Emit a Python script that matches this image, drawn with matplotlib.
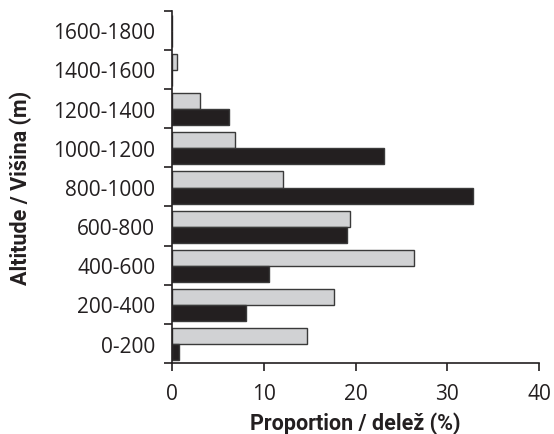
import matplotlib
matplotlib.use("Agg")
import matplotlib.pyplot as plt
import numpy as np

categories = ["0-200", "200-400", "400-600", "600-800", "800-1000",
              "1000-1200", "1200-1400", "1400-1600", "1600-1800"]
grey_vals = [14.7, 17.6, 26.4, 19.35, 12.05, 6.9, 3.0, 0.5, 0.0]
black_vals = [0.8, 8.1, 10.55, 19.1, 32.8, 23.05, 6.2, 0.0, 0.0]

plt.rcParams['font.family'] = ['Open Sans', 'DejaVu Sans']

fig = plt.figure(figsize=(5.54, 4.35), dpi=100)
ax = fig.add_axes([0.3105, 0.163, 0.6625, 0.81])

y = np.arange(len(categories))
h = 0.41
ax.barh(y + 0.19, grey_vals, height=h, color='#d1d2d4', edgecolor='#3a3a3a', linewidth=1.0)
ax.barh(y - 0.22, black_vals, height=h, color='#231f20', edgecolor='#3a3a3a', linewidth=1.0)

ax.set_xlim(0, 40)
ax.set_ylim(-0.5, len(categories) - 0.5)
ax.set_xticks([0, 10, 20, 30, 40])
ax.set_yticks(y)
ax.set_yticklabels(categories)
# ticks sit on the category boundaries, labels at the centres
ax.set_yticks(np.arange(-0.5, len(categories)), minor=True)
ax.tick_params(axis='y', which='major', length=0, pad=12, labelsize=15, labelcolor='#231f20')
ax.tick_params(axis='y', which='minor', length=6, width=1.2, color='#231f20')
ax.tick_params(axis='x', length=6, width=1.2, pad=8, labelsize=15, colors='#231f20')

for s in ['top', 'right']:
    ax.spines[s].set_visible(False)
for s in ['left', 'bottom']:
    ax.spines[s].set_linewidth(1.2)
    ax.spines[s].set_color('#231f20')

lab_font = ['Roboto', 'DejaVu Sans']
ax.set_xlabel("Proportion / delež (%)", fontsize=15.5, fontweight='bold',
              family=lab_font, color='#231f20', labelpad=6)
ax.set_ylabel("Altitude / Višina (m)", fontsize=15.5, fontweight='bold',
              family=lab_font, color='#231f20')
ax.yaxis.set_label_coords(-0.382, 0.5)

fig.savefig("out.png", dpi=100)
